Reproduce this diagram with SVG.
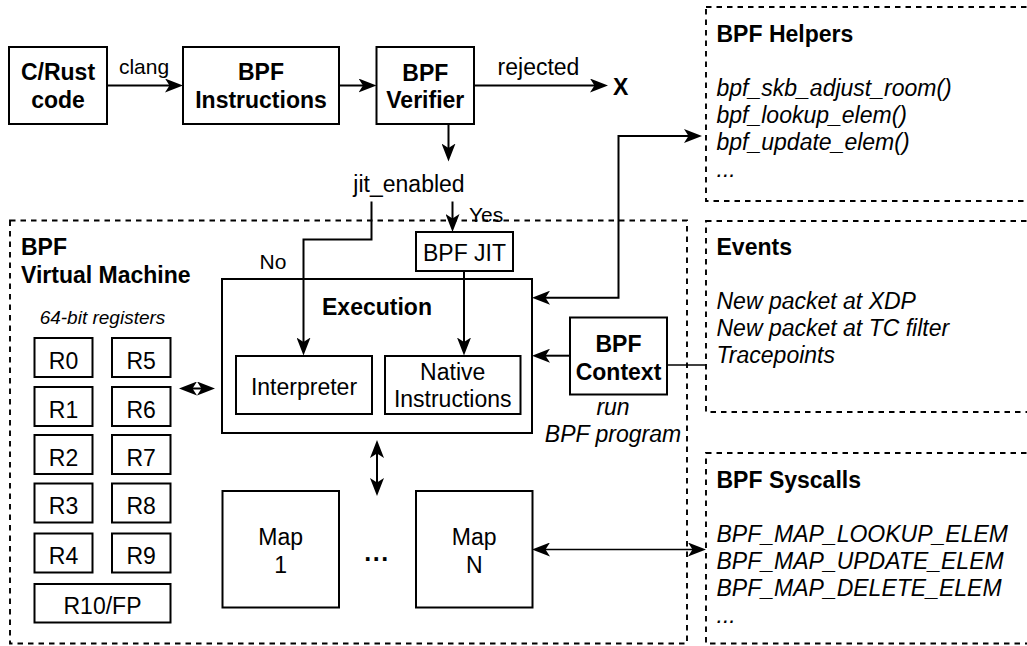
<svg xmlns="http://www.w3.org/2000/svg" width="1027" height="646" viewBox="0 0 1027 646">
  <defs>
    <!-- classic notched arrowhead; path endpoints sit 6px behind the tip -->
    <marker id="arr" viewBox="0 0 18 14" refX="12" refY="7" markerWidth="18" markerHeight="14" markerUnits="userSpaceOnUse" orient="auto-start-reverse">
      <path d="M0,0 L18,7 L0,14 L4.5,7 Z" fill="#000"/>
    </marker>
    <style>
      .box { fill: #fff; stroke: #000; stroke-width: 2; }
      .dbox { fill: none; stroke: #000; stroke-width: 1.9; stroke-dasharray: 5.5 5; }
      .edge { fill: none; stroke: #000; stroke-width: 2; }
      .thin { stroke-width: 1.4; }
      text { font-family: "Liberation Sans", Arial, sans-serif; font-size: 23px; fill: #000; }
      .b { font-weight: bold; }
      .i { font-style: italic; }
      .c { text-anchor: middle; }
      .lbl { font-size: 21px; }
      .small { font-size: 19px; }
    </style>
  </defs>

  <!-- outer containers -->
  <g id="vm">
    <rect class="dbox" x="10" y="220.5" width="677" height="423"/>
    <text class="b" x="21" y="255">BPF</text>
    <text class="b" x="21" y="283">Virtual Machine</text>
  </g>

  <g id="helpers">
    <rect class="dbox" x="706" y="7" width="340" height="194"/>
    <text class="b" x="716.5" y="42">BPF Helpers</text>
    <text class="i" x="716.5" y="96">bpf_skb_adjust_room()</text>
    <text class="i" x="716.5" y="123">bpf_lookup_elem()</text>
    <text class="i" x="716.5" y="150">bpf_update_elem()</text>
    <text class="i" x="716.5" y="177">...</text>
  </g>

  <g id="events">
    <rect class="dbox" x="706" y="221" width="340" height="191"/>
    <text class="b" x="716.5" y="255">Events</text>
    <text class="i" x="716.5" y="309">New packet at XDP</text>
    <text class="i" x="716.5" y="336">New packet at TC filter</text>
    <text class="i" x="716.5" y="363">Tracepoints</text>
  </g>

  <g id="syscalls">
    <rect class="dbox" x="706" y="453" width="340" height="190.5"/>
    <text class="b" x="716.5" y="488">BPF Syscalls</text>
    <text class="i" x="716.5" y="542">BPF_MAP_LOOKUP_ELEM</text>
    <text class="i" x="716.5" y="569">BPF_MAP_UPDATE_ELEM</text>
    <text class="i" x="716.5" y="596">BPF_MAP_DELETE_ELEM</text>
    <text class="i" x="716.5" y="623">...</text>
  </g>

  <!-- build pipeline -->
  <g id="source">
    <rect class="box" x="9" y="47" width="98" height="77"/>
    <text class="b c" x="58" y="80">C/Rust</text>
    <text class="b c" x="58" y="108">code</text>
  </g>
  <g id="instructions">
    <rect class="box" x="183" y="47" width="156" height="77"/>
    <text class="b c" x="261" y="80">BPF</text>
    <text class="b c" x="261" y="108">Instructions</text>
  </g>
  <g id="verifier">
    <rect class="box" x="376.5" y="47" width="97.5" height="77"/>
    <text class="b c" x="425.3" y="81">BPF</text>
    <text class="b c" x="425.3" y="108">Verifier</text>
  </g>
  <g id="reject">
    <text class="b" x="613" y="95">X</text>
  </g>
  <g id="jit-enabled">
    <text class="c" x="409" y="191.5">jit_enabled</text>
  </g>

  <!-- execution engine -->
  <g id="execution">
    <rect class="box" x="222" y="279" width="310" height="154"/>
    <text class="b c" x="377" y="315">Execution</text>
  </g>
  <g id="interpreter">
    <rect class="box" x="236" y="356" width="136" height="58"/>
    <text class="c" x="304" y="395">Interpreter</text>
  </g>
  <g id="native">
    <rect class="box" x="385" y="356" width="135.5" height="58"/>
    <text class="c" x="452.7" y="380">Native</text>
    <text class="c" x="452.7" y="407">Instructions</text>
  </g>
  <g id="jit">
    <rect class="box" x="416" y="232" width="97" height="39"/>
    <text class="c" x="464.5" y="261">BPF JIT</text>
  </g>
  <g id="context">
    <rect class="box" x="570" y="317.5" width="97" height="77"/>
    <text class="b c" x="618.5" y="351.5">BPF</text>
    <text class="b c" x="618.5" y="379.5">Context</text>
    <text class="i c" x="613" y="415">run</text>
    <text class="i c" x="613" y="442">BPF program</text>
  </g>

  <!-- registers -->
  <g id="registers">
    <text class="i c small" x="102.5" y="324">64-bit registers</text>
    <rect class="box" x="34.5" y="338" width="58" height="39"/>
    <text class="c" x="63.5" y="368.5">R0</text>
    <rect class="box" x="112" y="338" width="58.5" height="39"/>
    <text class="c" x="141.2" y="368.5">R5</text>
    <rect class="box" x="34.5" y="387" width="58" height="39"/>
    <text class="c" x="63.5" y="417.5">R1</text>
    <rect class="box" x="112" y="387" width="58.5" height="39"/>
    <text class="c" x="141.2" y="417.5">R6</text>
    <rect class="box" x="34.5" y="435" width="58" height="39"/>
    <text class="c" x="63.5" y="465.5">R2</text>
    <rect class="box" x="112" y="435" width="58.5" height="39"/>
    <text class="c" x="141.2" y="465.5">R7</text>
    <rect class="box" x="34.5" y="483.5" width="58" height="39"/>
    <text class="c" x="63.5" y="514">R3</text>
    <rect class="box" x="112" y="483.5" width="58.5" height="39"/>
    <text class="c" x="141.2" y="514">R8</text>
    <rect class="box" x="34.5" y="533.5" width="58" height="39"/>
    <text class="c" x="63.5" y="564">R4</text>
    <rect class="box" x="112" y="533.5" width="58.5" height="39"/>
    <text class="c" x="141.2" y="564">R9</text>
    <rect class="box" x="34.5" y="584" width="136" height="38.5"/>
    <text class="c" x="102.5" y="614">R10/FP</text>
  </g>

  <!-- maps -->
  <g id="map1">
    <rect class="box" x="222.5" y="491" width="116.5" height="116.5"/>
    <text class="c" x="280.7" y="545">Map</text>
    <text class="c" x="280.7" y="573">1</text>
  </g>
  <g id="mapn">
    <rect class="box" x="416" y="491" width="116.5" height="116.5"/>
    <text class="c" x="474.2" y="545">Map</text>
    <text class="c" x="474.2" y="573">N</text>
  </g>
  <g id="maps-more">
    <text class="b c" x="377" y="561" style="font-size:25px;letter-spacing:1.5px">...</text>
  </g>

  <!-- connectors -->
  <g id="connectors">
    <path class="edge" d="M107,85.5 H177" marker-end="url(#arr)"/>
    <text class="c lbl" x="144" y="74">clang</text>
    <path class="edge" d="M339,85.5 H370.5" marker-end="url(#arr)"/>
    <path class="edge" d="M474,85.5 H602" marker-end="url(#arr)"/>
    <text class="c" x="538.5" y="75">rejected</text>
    <path class="edge" d="M448.5,124 V155.5" marker-end="url(#arr)"/>
    <path class="edge" d="M371.5,201.5 V239.5 H303.5 V349.5" marker-end="url(#arr)"/>
    <text class="c lbl" x="273" y="269">No</text>
    <path class="edge" d="M452.5,201.5 V226" marker-end="url(#arr)"/>
    <text class="lbl" x="469" y="222">Yes</text>
    <path class="edge" d="M464,271 V349.5" stroke-width="1.7" marker-end="url(#arr)"/>
    <path class="edge" d="M538,297.7 H618.5 V136 H696" marker-start="url(#arr)" marker-end="url(#arr)"/>
    <path class="edge" d="M570,355.7 H538" marker-end="url(#arr)"/>
    <path class="edge thin" d="M667,365 H706"/>
    <path class="edge" d="M185,388.5 H209" marker-start="url(#arr)" marker-end="url(#arr)"/>
    <path class="edge" d="M377,446 V490" marker-start="url(#arr)" marker-end="url(#arr)"/>
    <path class="edge thin" d="M538,549.5 H700" marker-start="url(#arr)" marker-end="url(#arr)"/>
  </g>
</svg>
